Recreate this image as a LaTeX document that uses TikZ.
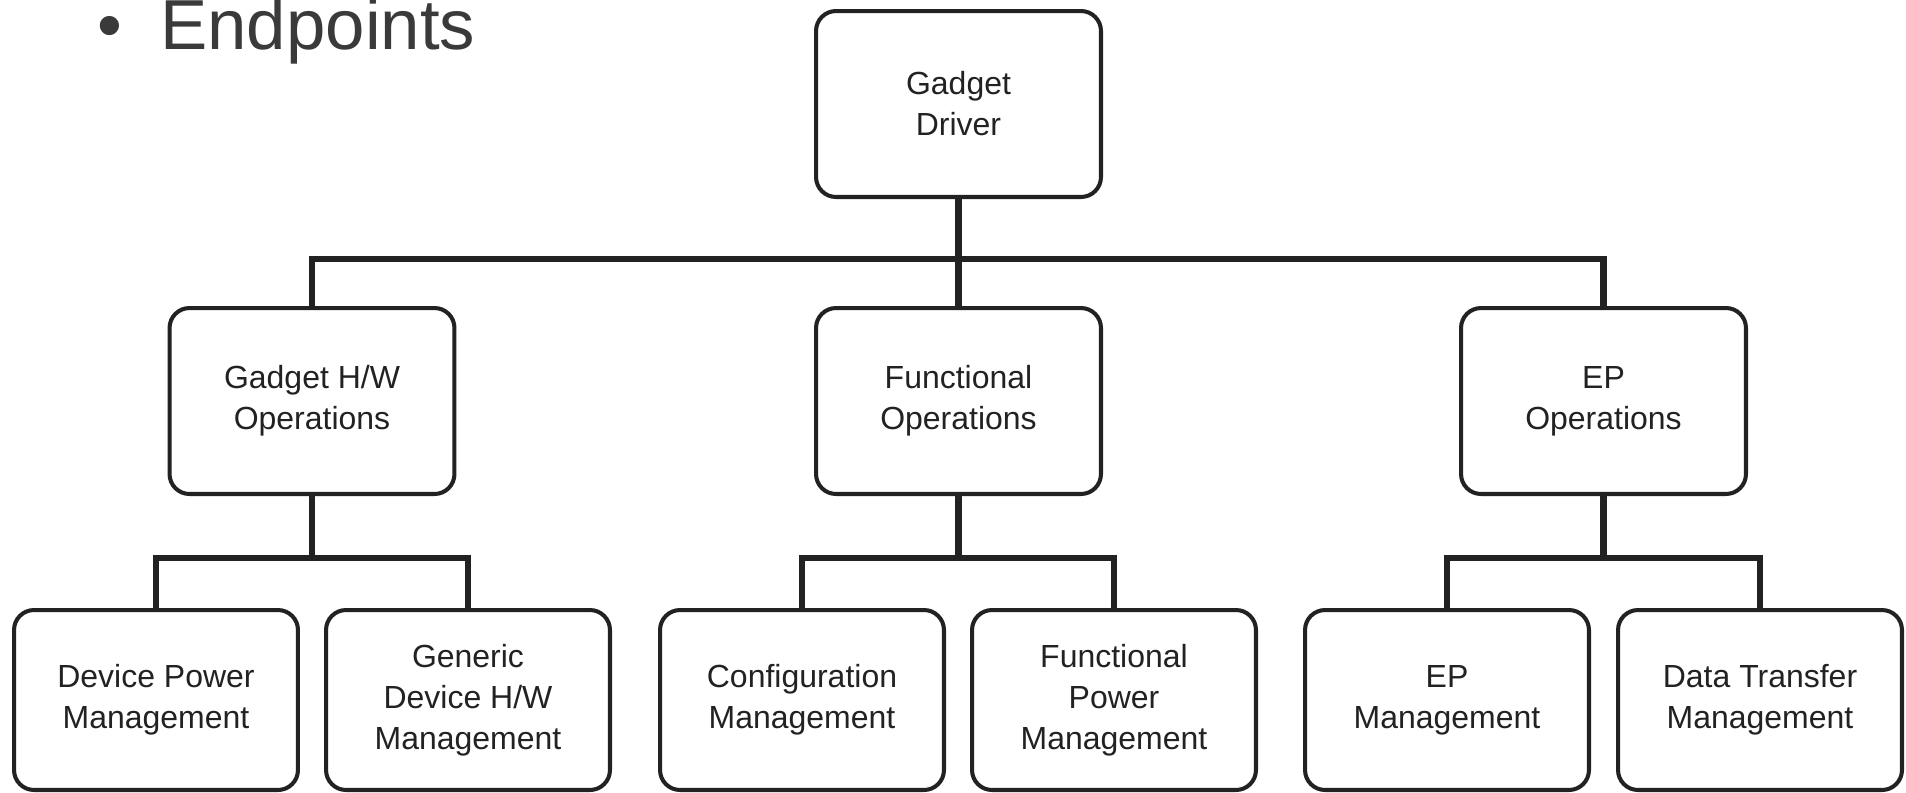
\documentclass[tikz,border=0pt]{standalone}
\usepackage{fontspec}
\setmainfont{Liberation Sans}
\definecolor{ink}{HTML}{222222}
\definecolor{slide}{HTML}{3A3A3A}
\tikzset{
  box/.style={draw=ink, line width=2.3pt, rounded corners=0.4cm,
    minimum width=5.7cm, minimum height=3.72cm, inner sep=0pt,
    align=center, text=ink, font=\fontsize{18.2}{23.3}\selectfont},
  leaf/.style={box, minimum width=5.68cm, minimum height=3.6cm},
  bus/.style={draw=ink, line width=3.8pt, line join=miter}
}
\begin{document}
\begin{tikzpicture}[x=0.02cm, y=-0.02cm]
\fill[white] (0,0) rectangle (1906,792);
\useasboundingbox (0,0) rectangle (1906,792);
% slide heading, cut at the top
\node (bullet) [anchor=base west, inner sep=0pt, text=slide, font=\fontsize{40.3}{44}\selectfont] at (97,49) {•};
\node (endpts) [anchor=base west, inner sep=0pt, text=slide, font=\fontsize{40.3}{44}\selectfont] at (160,49) {Endpoints};
% root
\node (drv) [box] at (958.5,104) {Gadget\\Driver};
% second level
\node (hw) [box] at (312,401) {Gadget H/W\\Operations};
\node (fn) [box] at (958.5,401) {Functional\\Operations};
\node (ep) [box] at (1603.5,401) {EP\\Operations};
% leaves
\node (dpm) [leaf] at (156,700) {Device Power\\Management};
\node (gdm) [leaf] at (468,700) {Generic\\Device H/W\\Management};
\node (cfg) [leaf] at (802,700) {Configuration\\Management};
\node (fpm) [leaf] at (1114,700) {Functional\\Power\\Management};
\node (epm) [leaf] at (1447,700) {EP\\Management};
\node (dtm) [leaf] at (1760,700) {Data Transfer\\Management};
% connectors
\coordinate (top-j) at (drv.south |- 0,259);
\draw[bus] (drv.south) -- (top-j);
\draw[bus] (hw.north) |- (top-j) -| (ep.north);
\draw[bus] (top-j) -- (fn.north);
\foreach \p/\a/\b in {hw/dpm/gdm, fn/cfg/fpm, ep/epm/dtm}{
  \coordinate (\p-j) at (\p.south |- 0,558);
  \draw[bus] (\p.south) -- (\p-j);
  \draw[bus] (\a.north) |- (\p-j) -| (\b.north);
}
\end{tikzpicture}
\end{document}
